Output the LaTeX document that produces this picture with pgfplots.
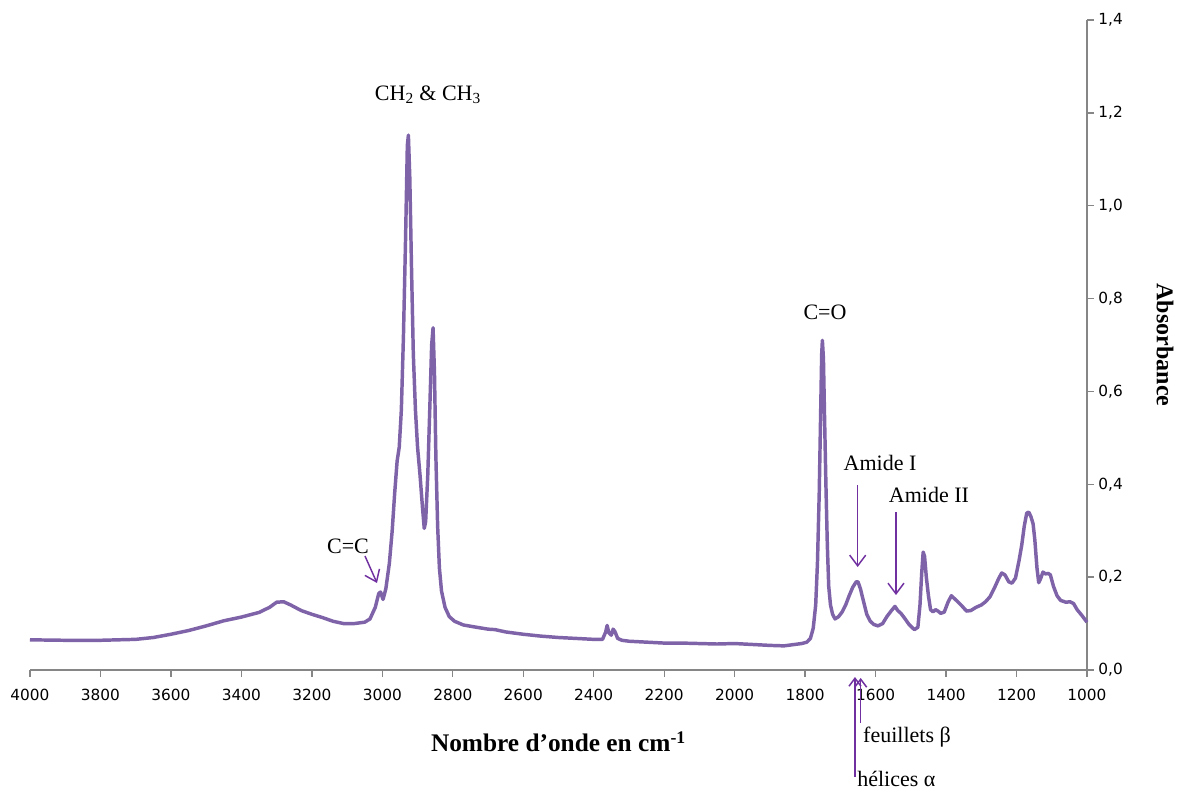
\documentclass[border=0pt]{standalone}
\usepackage{pgfplots}
\pgfplotsset{compat=1.18}
\usetikzlibrary{arrows.meta}
\usepackage{fontspec}
\setmainfont{Liberation Serif}
\newfontfamily\tickfont{DejaVu Sans}
\definecolor{specline}{HTML}{7F63A8}
\definecolor{arrowc}{HTML}{7030A0}
\definecolor{axgray}{HTML}{868686}
\begin{document}
\begin{tikzpicture}
\useasboundingbox (-22.5pt,-93pt) rectangle (871.5pt,502.5pt);
\begin{axis}[
  scale only axis, width=792.75pt, height=487.5pt,
  xmin=1000, xmax=4000, x dir=reverse, ymin=0, ymax=1.4,
  axis x line=bottom, axis y line=right,
  axis line style={draw=axgray, line width=1pt, -},
  tick style={draw=axgray, line width=1pt},
  tick align=outside, major tick length=5pt,
  xtick={1000,1200,...,4000}, ytick={0,0.2,0.4,0.6,0.8,1.0,1.2,1.4},
  /pgf/number format/assume math mode=true,
  x tick label style={font=\tickfont\fontsize{11.5}{13}\selectfont, /pgf/number format/1000 sep={}, yshift=-6pt},
  y tick label style={font=\tickfont\fontsize{11.5}{13}\selectfont, /pgf/number format/.cd, use comma, fixed, fixed zerofill, precision=1},
  clip=false,
]
\addplot[specline, line width=2.6pt, line join=round] coordinates {
(4000,0.065) (3900,0.064) (3800,0.064) (3700,0.066) (3650,0.070) (3600,0.077)
(3550,0.085) (3500,0.095) (3450,0.106) (3400,0.114) (3350,0.124) (3320,0.135)
(3300,0.146) (3280,0.147) (3260,0.140) (3230,0.128) (3200,0.120) (3170,0.113)
(3140,0.105) (3110,0.100) (3080,0.100) (3050,0.103) (3035,0.110) (3020,0.135)
(3010,0.165) (3005,0.168) (2998,0.152) (2990,0.175) (2980,0.23) (2972,0.30)
(2965,0.38) (2958,0.45) (2952,0.48) (2946,0.56) (2940,0.72) (2934,0.93)
(2929,1.13) (2926,1.152) (2922,1.06) (2917,0.86) (2912,0.68) (2906,0.56)
(2900,0.48) (2893,0.42) (2886,0.35) (2881,0.305) (2877,0.32) (2871,0.42)
(2865,0.57) (2860,0.70) (2856,0.737) (2852,0.64) (2848,0.46) (2843,0.31)
(2838,0.22) (2832,0.17) (2822,0.135) (2810,0.115) (2795,0.105) (2770,0.097)
(2740,0.093) (2700,0.088) (2680,0.087) (2650,0.082) (2600,0.077) (2550,0.073)
(2500,0.070) (2450,0.068) (2400,0.066) (2375,0.066) (2366,0.082) (2362,0.096)
(2357,0.080) (2350,0.075) (2345,0.088) (2340,0.083) (2332,0.068) (2320,0.064)
(2300,0.062) (2250,0.060) (2200,0.058) (2150,0.058) (2100,0.057) (2050,0.056)
(2000,0.057) (1950,0.055) (1900,0.053) (1860,0.052) (1830,0.055) (1810,0.057)
(1795,0.060) (1785,0.068) (1777,0.090) (1770,0.14) (1765,0.23) (1760,0.38)
(1756,0.55) (1753,0.68) (1751,0.71) (1748,0.67) (1745,0.55) (1741,0.40)
(1737,0.27) (1733,0.18) (1728,0.14) (1722,0.12) (1715,0.11) (1705,0.115)
(1695,0.125) (1685,0.14) (1675,0.16) (1665,0.178) (1655,0.19) (1650,0.19)
(1643,0.175) (1635,0.15) (1625,0.12) (1615,0.105) (1605,0.098) (1593,0.095)
(1580,0.10) (1568,0.115) (1555,0.128) (1545,0.137) (1537,0.128) (1528,0.122)
(1518,0.112) (1505,0.098) (1490,0.087) (1480,0.092) (1474,0.14) (1469,0.21)
(1465,0.254) (1461,0.245) (1456,0.20) (1450,0.16) (1444,0.13) (1437,0.125)
(1430,0.13) (1423,0.127) (1415,0.122) (1405,0.125) (1395,0.145) (1385,0.16)
(1378,0.155) (1368,0.148) (1355,0.138) (1342,0.127) (1330,0.128) (1315,0.135)
(1300,0.14) (1288,0.147) (1275,0.158) (1262,0.178) (1250,0.198) (1242,0.209)
(1233,0.205) (1222,0.19) (1213,0.187) (1203,0.198) (1193,0.235) (1185,0.27)
(1178,0.31) (1171,0.338) (1165,0.34) (1159,0.33) (1153,0.315) (1148,0.28)
(1142,0.22) (1137,0.188) (1131,0.198) (1125,0.211) (1118,0.207) (1110,0.208)
(1104,0.205) (1095,0.18) (1085,0.16) (1075,0.15) (1060,0.146) (1048,0.147)
(1038,0.143) (1028,0.13) (1015,0.118) (1005,0.108) (1000,0.103)
};
% annotations
\node[font=\fontsize{16.5}{19}\selectfont] at (axis cs:2870.4,1.2385) {CH\textsubscript{2} \& CH\textsubscript{3}};
\node[font=\fontsize{16.5}{19}\selectfont] at (axis cs:3097.5,0.267) {C=C};
\node[font=\fontsize{16.5}{19}\selectfont] at (axis cs:1743.6,0.771) {C=O};
\node[font=\fontsize{16.5}{19}\selectfont] at (axis cs:1587.5,0.4458) {Amide I};
\node[font=\fontsize{16.5}{19}\selectfont] at (axis cs:1448.5,0.377) {Amide II};
\node[font=\fontsize{16.5}{19}\selectfont, anchor=west, inner sep=0pt] at (axis cs:1635.8,-0.1443) {feuillets β};
\node[font=\fontsize{16.5}{19}\selectfont, anchor=west, inner sep=0pt] at (axis cs:1652.8,-0.2348) {hélices α};
\begin{scope}[arrowc, line width=1.1pt]
\draw[-{Straight Barb[length=8pt,width=12pt]}] (axis cs:3049.2,0.2455) -- (axis cs:3015.1,0.1874);
\draw[-{Straight Barb[length=8pt,width=12pt]}] (axis cs:1650.8,0.3985) -- (axis cs:1650.8,0.2218);
\draw[-{Straight Barb[length=8pt,width=12pt]}] (axis cs:1542.1,0.3403) -- (axis cs:1542.1,0.1615);
\draw[-{Straight Barb[length=6pt,width=9pt]}] (axis cs:1642.3,-0.1142) -- (axis cs:1642.3,-0.0172);
\draw[-{Straight Barb[length=6pt,width=9pt]}] (axis cs:1658.5,-0.2305) -- (axis cs:1658.5,-0.0151);
\end{scope}
\path (rel axis cs:0.5,0) ++(0pt,-54pt) node[font=\bfseries\fontsize{19}{22}\selectfont] {Nombre d’onde en cm\textsuperscript{-1}};
\path (rel axis cs:1,0.5) ++(58.5pt,0pt) node[font=\bfseries\fontsize{18}{21}\selectfont, rotate=-90] {Absorbance};
\end{axis}
\end{tikzpicture}
\end{document}
